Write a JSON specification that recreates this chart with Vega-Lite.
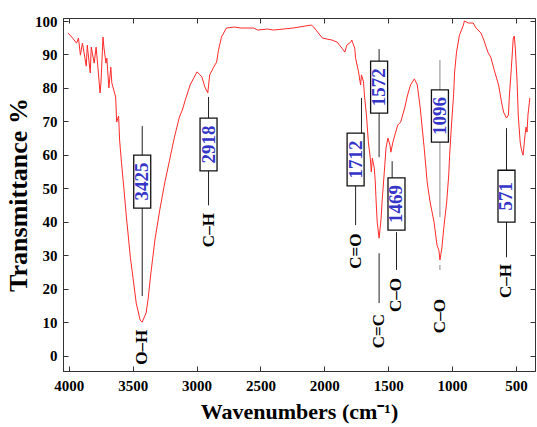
{
  "$schema": "https://vega.github.io/schema/vega-lite/v6.json",
  "width": 472,
  "height": 353,
  "autosize": {"type": "none"},
  "padding": {"left": 63, "top": 18, "right": 2, "bottom": 56},
  "background": "white",
  "config": {
    "view": {"stroke": "#333", "strokeWidth": 1},
    "font": "Liberation Serif"
  },
  "datasets": {
    "spectrum": [
      {"wn": 4005, "t": 96.4}, {"wn": 3970, "t": 94.9}, {"wn": 3939, "t": 93.4}, {"wn": 3924, "t": 94.9},
      {"wn": 3909, "t": 89.8}, {"wn": 3893, "t": 93.4}, {"wn": 3863, "t": 86.5}, {"wn": 3855, "t": 92.8},
      {"wn": 3832, "t": 84.5}, {"wn": 3824, "t": 92.2}, {"wn": 3801, "t": 87.4}, {"wn": 3786, "t": 92.2},
      {"wn": 3778, "t": 88.9}, {"wn": 3755, "t": 78.5}, {"wn": 3748, "t": 81.5}, {"wn": 3732, "t": 95.2},
      {"wn": 3725, "t": 92.2}, {"wn": 3709, "t": 87.4}, {"wn": 3702, "t": 88.9}, {"wn": 3686, "t": 80.0},
      {"wn": 3671, "t": 86.2}, {"wn": 3663, "t": 81.5}, {"wn": 3633, "t": 77.3}, {"wn": 3625, "t": 69.8},
      {"wn": 3610, "t": 71.6}, {"wn": 3602, "t": 64.4}, {"wn": 3587, "t": 57.5}, {"wn": 3571, "t": 51.0},
      {"wn": 3548, "t": 41.1}, {"wn": 3518, "t": 29.4}, {"wn": 3495, "t": 22.6}, {"wn": 3472, "t": 15.7},
      {"wn": 3441, "t": 10.6}, {"wn": 3426, "t": 10.0}, {"wn": 3395, "t": 12.7}, {"wn": 3380, "t": 16.6},
      {"wn": 3357, "t": 24.7}, {"wn": 3326, "t": 34.5}, {"wn": 3288, "t": 43.5}, {"wn": 3249, "t": 51.6},
      {"wn": 3211, "t": 58.4}, {"wn": 3173, "t": 65.3}, {"wn": 3134, "t": 71.3}, {"wn": 3111, "t": 73.4},
      {"wn": 3088, "t": 76.4}, {"wn": 3050, "t": 80.9}, {"wn": 2996, "t": 84.8}, {"wn": 2958, "t": 83.3},
      {"wn": 2935, "t": 80.3}, {"wn": 2912, "t": 78.5}, {"wn": 2897, "t": 83.9}, {"wn": 2866, "t": 86.2},
      {"wn": 2843, "t": 87.7}, {"wn": 2828, "t": 91.3}, {"wn": 2805, "t": 95.2}, {"wn": 2766, "t": 97.9},
      {"wn": 2705, "t": 98.2}, {"wn": 2651, "t": 97.9}, {"wn": 2552, "t": 97.9}, {"wn": 2521, "t": 97.3},
      {"wn": 2444, "t": 97.6}, {"wn": 2398, "t": 97.3}, {"wn": 2245, "t": 97.9}, {"wn": 2100, "t": 98.8},
      {"wn": 2077, "t": 97.9}, {"wn": 2015, "t": 94.9}, {"wn": 1939, "t": 94.3}, {"wn": 1900, "t": 93.7},
      {"wn": 1862, "t": 91.9}, {"wn": 1839, "t": 90.7}, {"wn": 1824, "t": 92.8}, {"wn": 1793, "t": 93.7},
      {"wn": 1785, "t": 94.3}, {"wn": 1762, "t": 91.9}, {"wn": 1755, "t": 88.9}, {"wn": 1732, "t": 84.8},
      {"wn": 1716, "t": 80.9}, {"wn": 1709, "t": 83.9}, {"wn": 1693, "t": 81.8}, {"wn": 1686, "t": 77.9},
      {"wn": 1670, "t": 71.9}, {"wn": 1655, "t": 63.8}, {"wn": 1640, "t": 59.0}, {"wn": 1632, "t": 54.9},
      {"wn": 1624, "t": 59.0}, {"wn": 1609, "t": 56.1}, {"wn": 1601, "t": 51.9}, {"wn": 1594, "t": 45.9},
      {"wn": 1586, "t": 39.9}, {"wn": 1571, "t": 35.1}, {"wn": 1555, "t": 41.1}, {"wn": 1548, "t": 45.9},
      {"wn": 1532, "t": 54.0}, {"wn": 1517, "t": 62.0}, {"wn": 1502, "t": 65.0}, {"wn": 1486, "t": 62.9},
      {"wn": 1479, "t": 60.8}, {"wn": 1463, "t": 63.8}, {"wn": 1448, "t": 65.9}, {"wn": 1425, "t": 68.9},
      {"wn": 1402, "t": 69.8}, {"wn": 1371, "t": 74.0}, {"wn": 1348, "t": 77.9}, {"wn": 1325, "t": 80.9},
      {"wn": 1295, "t": 82.7}, {"wn": 1272, "t": 80.9}, {"wn": 1249, "t": 74.0}, {"wn": 1218, "t": 62.0},
      {"wn": 1195, "t": 51.9}, {"wn": 1172, "t": 45.9}, {"wn": 1141, "t": 39.9}, {"wn": 1118, "t": 33.0},
      {"wn": 1103, "t": 31.5}, {"wn": 1095, "t": 28.6}, {"wn": 1080, "t": 32.1}, {"wn": 1065, "t": 38.1},
      {"wn": 1042, "t": 45.9}, {"wn": 1026, "t": 54.0}, {"wn": 1019, "t": 59.9}, {"wn": 1003, "t": 69.8},
      {"wn": 988, "t": 77.9}, {"wn": 980, "t": 84.8}, {"wn": 965, "t": 90.7}, {"wn": 942, "t": 95.8},
      {"wn": 911, "t": 98.8}, {"wn": 904, "t": 100.0}, {"wn": 873, "t": 99.4}, {"wn": 835, "t": 99.4},
      {"wn": 812, "t": 97.9}, {"wn": 774, "t": 96.4}, {"wn": 751, "t": 94.3}, {"wn": 720, "t": 90.7},
      {"wn": 697, "t": 89.2}, {"wn": 674, "t": 85.9}, {"wn": 643, "t": 81.8}, {"wn": 636, "t": 80.9},
      {"wn": 613, "t": 75.8}, {"wn": 597, "t": 72.8}, {"wn": 574, "t": 71.0}, {"wn": 559, "t": 71.9},
      {"wn": 551, "t": 77.9}, {"wn": 536, "t": 85.9}, {"wn": 521, "t": 94.9}, {"wn": 513, "t": 95.5},
      {"wn": 505, "t": 91.9}, {"wn": 491, "t": 81.8}, {"wn": 482, "t": 71.9}, {"wn": 467, "t": 63.8},
      {"wn": 459, "t": 62.0}, {"wn": 452, "t": 60.8}, {"wn": 444, "t": 59.9}, {"wn": 429, "t": 65.9},
      {"wn": 421, "t": 68.3}, {"wn": 413, "t": 66.8}, {"wn": 406, "t": 71.9}, {"wn": 391, "t": 77.0}
    ],
    "segs": [
      {"wn": 3425, "t1": 68.6, "t2": 17.8},
      {"wn": 2906, "t1": 77.3, "t2": 44.9},
      {"wn": 1709, "t1": 77.0, "t2": 66.5},
      {"wn": 1755, "t1": 50.7, "t2": 39.0},
      {"wn": 1571, "t1": 91.6, "t2": 59.3},
      {"wn": 1571, "t1": 30.6, "t2": 15.7},
      {"wn": 1469, "t1": 58.1, "t2": 53.1},
      {"wn": 1435, "t1": 36.9, "t2": 25.6},
      {"wn": 1095, "t1": 88.3, "t2": 41.4},
      {"wn": 1095, "t1": 27.1, "t2": 25.6},
      {"wn": 574, "t1": 68.0, "t2": 29.4}
    ],
    "boxes": [
      {"wn": 3425, "lo": 44.1, "hi": 59.9, "mid": 52.0, "label": "3425"},
      {"wn": 2906, "lo": 55.2, "hi": 71.0, "mid": 63.1, "label": "2918"},
      {"wn": 1755, "lo": 50.7, "hi": 66.5, "mid": 58.6, "label": "1712"},
      {"wn": 1571, "lo": 72.5, "hi": 88.0, "mid": 80.2, "label": "1572"},
      {"wn": 1435, "lo": 37.5, "hi": 53.1, "mid": 45.3, "label": "1469"},
      {"wn": 1095, "lo": 63.8, "hi": 79.4, "mid": 71.6, "label": "1096"},
      {"wn": 574, "lo": 39.9, "hi": 55.4, "mid": 47.6, "label": "571"}
    ],
    "bonds": [
      {"wn": 3425, "t": 2.5, "bond": "O–H"},
      {"wn": 2906, "t": 37.5, "bond": "C–H"},
      {"wn": 1755, "t": 31.2, "bond": "C=O"},
      {"wn": 1571, "t": 7.3, "bond": "C=C"},
      {"wn": 1435, "t": 18.1, "bond": "C–O"},
      {"wn": 1095, "t": 11.8, "bond": "C–O"},
      {"wn": 574, "t": 22.3, "bond": "C–H"}
    ]
  },
  "resolve": {"axis": {"x": "independent", "y": "independent"}},
  "layer": [
    {
      "data": {"name": "spectrum"},
      "mark": {"type": "line", "color": "#ff2a2a", "strokeWidth": 1},
      "encoding": {
        "x": {"field": "wn", "type": "quantitative",
          "scale": {"domain": [390, 4006], "reverse": true, "nice": false, "zero": false},
          "axis": {"orient": "bottom", "values": [500, 1000, 1500, 2000, 2500, 3000, 3500, 4000], "format": "d",
            "tickSize": -5, "tickColor": "#333", "domainColor": "#333", "grid": false,
            "labelPadding": 12, "labelDx": 8, "labelFont": "Liberation Serif", "labelFontSize": 15, "labelFontWeight": "bold", "labelColor": "black",
            "labelFlush": false, "labelOverlap": false,
            "title": "Wavenumbers (cm⁻¹)", "titleFont": "Liberation Serif", "titleFontSize": 22, "titleFontWeight": "bold", "titleColor": "black", "titlePadding": 8}},
        "y": {"field": "t", "type": "quantitative",
          "scale": {"domain": [-4.6, 100.9], "nice": false, "zero": false},
          "axis": {"orient": "left", "values": [0, 10, 20, 30, 40, 50, 60, 70, 80, 90, 100],
            "tickSize": -5, "tickColor": "#333", "domainColor": "#333", "grid": false,
            "labelPadding": 11, "labelFont": "Liberation Serif", "labelFontSize": 15, "labelFontWeight": "bold", "labelColor": "black",
            "labelFlush": false, "labelOverlap": false,
            "title": "Transmittance %", "titleFont": "Liberation Serif", "titleFontSize": 26, "titleFontWeight": "bold", "titleColor": "black", "titlePadding": 3}}
      }
    },
    {
      "data": {"name": "spectrum"},
      "mark": {"type": "point", "opacity": 0},
      "encoding": {
        "x": {"field": "wn", "type": "quantitative",
          "axis": {"orient": "top", "values": [500, 1000, 1500, 2000, 2500, 3000, 3500, 4000], "labels": false, "title": null,
            "tickSize": -5, "tickColor": "#333", "domainColor": "#333", "grid": false}},
        "y": {"field": "t", "type": "quantitative",
          "axis": {"orient": "right", "values": [0, 10, 20, 30, 40, 50, 60, 70, 80, 90, 100], "labels": false, "title": null,
            "tickSize": -5, "tickColor": "#333", "domainColor": "#333", "grid": false}}
      }
    },
    {
      "data": {"name": "segs"},
      "mark": {"type": "rule", "strokeWidth": 1},
      "encoding": {
        "x": {"field": "wn", "type": "quantitative", "axis": null},
        "y": {"field": "t1", "type": "quantitative", "axis": null},
        "y2": {"field": "t2"},
        "color": {"condition": {"test": "datum.wn == 1095", "value": "#8a8a8a"}, "value": "#222"}
      }
    },
    {
      "data": {"name": "boxes"},
      "mark": {"type": "bar", "width": 17, "fill": "white", "stroke": "#111", "strokeWidth": 1.3},
      "encoding": {
        "x": {"field": "wn", "type": "quantitative", "axis": null},
        "y": {"field": "lo", "type": "quantitative", "axis": null},
        "y2": {"field": "hi"}
      }
    },
    {
      "data": {"name": "boxes"},
      "mark": {"type": "text", "angle": 270, "align": "center", "baseline": "middle", "font": "Liberation Serif", "fontSize": 19, "fontWeight": "bold", "color": "#3535c8"},
      "encoding": {
        "x": {"field": "wn", "type": "quantitative", "axis": null},
        "y": {"field": "mid", "type": "quantitative", "axis": null},
        "text": {"field": "label"}
      }
    },
    {
      "data": {"name": "bonds"},
      "mark": {"type": "text", "angle": 270, "align": "center", "baseline": "middle", "font": "Liberation Serif", "fontSize": 17, "fontWeight": "bold", "color": "black"},
      "encoding": {
        "x": {"field": "wn", "type": "quantitative", "axis": null},
        "y": {"field": "t", "type": "quantitative", "axis": null},
        "text": {"field": "bond"}
      }
    }
  ]
}
